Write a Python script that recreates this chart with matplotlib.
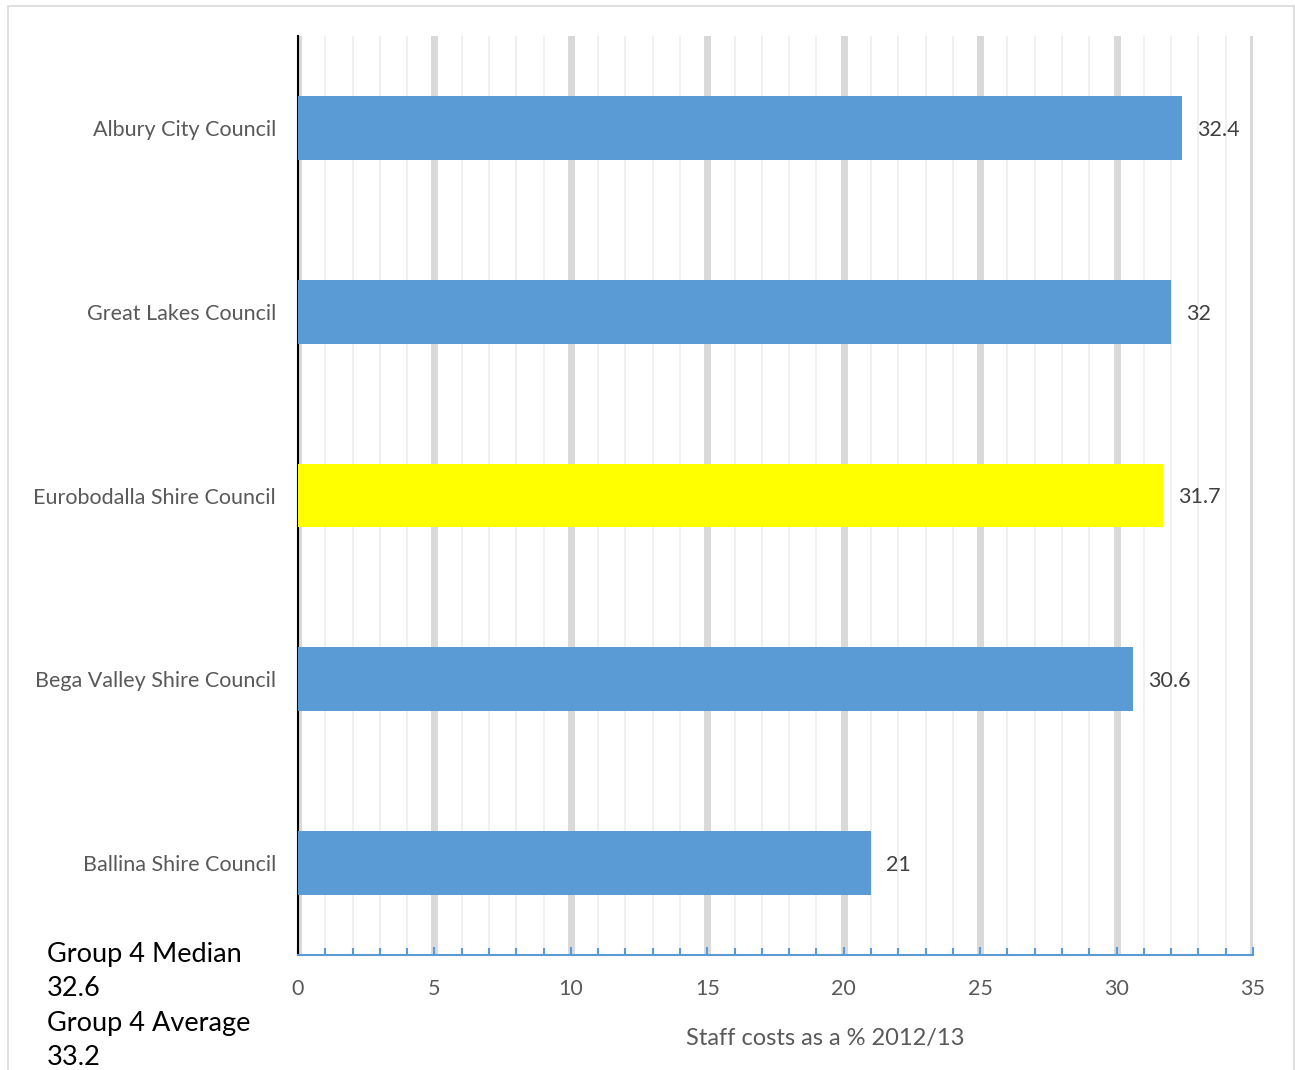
"""
Staff costs as a % 2012/13 - Group 4 councils, horizontal bar chart.
"""

import matplotlib
matplotlib.use("Agg")
import matplotlib.pyplot as plt
from matplotlib.patches import Rectangle
from matplotlib.ticker import MultipleLocator

councils = ["Albury City Council", "Great Lakes Council", "Eurobodalla Shire Council",
            "Bega Valley Shire Council", "Ballina Shire Council"]
staff_costs = [32.4, 32, 31.7, 30.6, 21]
value_labels = ["32.4", "32", "31.7", "30.6", "21"]
highlight = "Eurobodalla Shire Council"
median_text = "Group 4 Median\n32.6\nGroup 4 Average\n33.2"

BLUE = "#5B9BD5"
YELLOW = "#FFFF00"
GREY_TXT = "#595959"

plt.rcParams['font.family'] = ['Lato', 'DejaVu Sans']

fig = plt.figure(figsize=(12.95, 10.70), dpi=100)
ax = fig.add_axes([298 / 1295, 1 - 955 / 1070, 955 / 1295, 919 / 1070])

ypos = list(range(len(councils)))
colors = [YELLOW if c == highlight else BLUE for c in councils]
ax.barh(ypos, staff_costs, height=0.348, color=colors, zorder=3)

for y, v, t in zip(ypos, staff_costs, value_labels):
    ax.text(v + 0.55, y + 0.01, t, va='center', ha='left', fontsize=15.5, color="#404040")

ax.set_xlim(0, 35)
ax.set_ylim(4.5, -0.5)
ax.set_yticks(ypos)
ax.set_yticklabels(councils, fontsize=15.5, color=GREY_TXT)
ax.tick_params(axis='y', length=0, pad=16)

# gridlines: thick at 5s, thin at 1s
ax.xaxis.set_major_locator(MultipleLocator(5))
ax.xaxis.set_minor_locator(MultipleLocator(1))
ax.grid(True, which='major', axis='x', color="#D9D9D9", linewidth=5, zorder=0)
ax.grid(True, which='minor', axis='x', color="#F0F0F0", linewidth=1.4, zorder=0)
ax.set_axisbelow(True)

ax.tick_params(axis='x', which='both', direction='in', color=BLUE, width=1.5,
               labelsize=15.5, labelcolor=GREY_TXT, pad=17)
ax.tick_params(axis='x', which='major', length=6)
ax.tick_params(axis='x', which='minor', length=5)

for s in ['top', 'right']:
    ax.spines[s].set_visible(False)
ax.spines['left'].set_color('black')
ax.spines['left'].set_linewidth(1.5)
ax.spines['bottom'].set_color(BLUE)
ax.spines['bottom'].set_linewidth(1.5)

ax.set_xlabel("Staff costs as a % 2012/13", fontsize=17, color=GREY_TXT)
ax.xaxis.set_label_coords((825 - 298) / 955, -(1028 - 955) / 919)

fig.text(47 / 1295, 1 - 942 / 1070, median_text, ha='left', va='top',
         fontsize=19.5, color='black', linespacing=1.47)

# thin frame around the chart area
fig.patches.append(Rectangle((8 / 1295, -0.05), 1286 / 1295, 1.05 - 6 / 1070,
                             transform=fig.transFigure, fill=False,
                             edgecolor="#D9D9D9", linewidth=1.2))

fig.savefig("out.png", dpi=100)
